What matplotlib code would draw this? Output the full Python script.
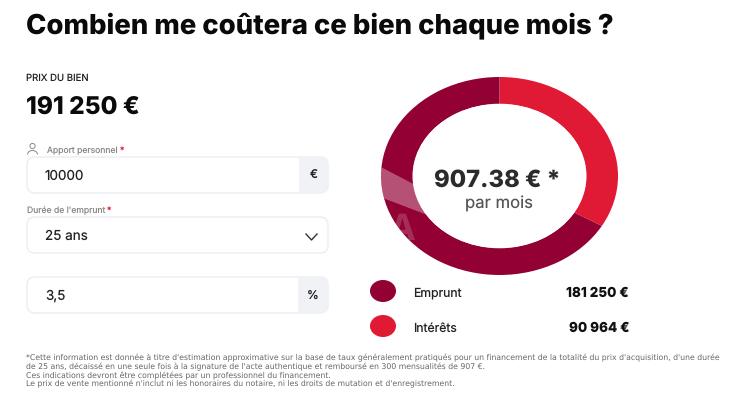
import matplotlib
matplotlib.use("Agg")
import matplotlib.pyplot as plt
from matplotlib.patches import Circle, Ellipse, FancyBboxPatch, Polygon, Rectangle, Arc

plt.rcParams["font.family"] = ["Inter", "DejaVu Sans"]
plt.rcParams["text.hinting"] = "no_hinting"

TITLE = "Combien me coûtera ce bien chaque mois ?"
PRICE_LABEL = "PRIX DU BIEN"
PRICE = "191 250 €"
DONUT_LABELS = ["Intérêts", "Emprunt"]
DONUT_VALUES = [90964, 181250]
DONUT_COLORS = ["#e01a35", "#930034"]
MONTHLY = "907.38 € *"
FOOTNOTE = [
    "*Cette information est donnée à titre d'estimation approximative sur la base de taux généralement pratiqués pour un financement de la totalité du prix d'acquisition, d'une durée",
    "de 25 ans, décaissé en une seule fois à la signature de l'acte authentique et remboursé en 300 mensualités de 907 €.",
    "Ces indications devront être complétées par un professionnel du financement.",
    "Le prix de vente mentionné n'inclut ni les honoraires du notaire, ni les droits de mutation et d'enregistrement.",
]


def draw_field(ax, top, bottom, value, unit=None, split=299):
    box = FancyBboxPatch((27, top), 301, bottom - top, boxstyle="round,pad=0,rounding_size=8",
                         fc="white", ec="#eef0f5", lw=1.2, zorder=2)
    ax.add_patch(box)
    if unit:
        grey = Rectangle((split, top), 330 - split, bottom - top, fc="#f0f2f5", ec="none", zorder=3)
        ax.add_patch(grey)
        grey.set_clip_path(box)
        ax.text((split + 328) / 2, (top + bottom) / 2 + 0.5, unit, fontsize=8.5, fontweight="medium",
                color="#222222", ha="center", va="center", zorder=4)
    ax.text(45, (top + bottom) / 2 + 1, value, fontsize=9.7, color="#222222", va="center", zorder=4)


def main():
    fig = plt.figure(figsize=(7.5, 4.2), dpi=100)
    ax = fig.add_axes([0, 0, 1, 1])
    ax.set_xlim(0, 750)
    ax.set_ylim(420, 0)
    ax.axis("off")
    ax.set_zorder(2)

    ax.text(26, 26, TITLE, fontsize=19.8, fontweight="heavy", color="#0a0a0a", va="center")
    ax.text(26, 78.5, PRICE_LABEL, fontsize=6.9, color="#222222", va="center")
    ax.text(26, 107, PRICE, fontsize=17.6, fontweight="heavy", color="#0a0a0a", va="center")

    # champs de gauche
    ax.add_patch(Circle((32.5, 146), 2.6, fc="none", ec="#888888", lw=0.7))
    ax.add_patch(Arc((32.5, 154.5), 10, 8, theta1=180, theta2=360, ec="#888888", lw=0.7))
    ax.text(47, 150.5, "Apport personnel", fontsize=6.2, color="#8a8a8a", va="center")
    ax.text(120, 150.5, "*", fontsize=6.2, color="#e01a35", va="center")
    draw_field(ax, 157, 193, "10000", "€")
    ax.text(27, 210.5, "Durée de l'emprunt", fontsize=6.2, color="#8a8a8a", va="center")
    ax.text(107, 210.5, "*", fontsize=6.2, color="#e01a35", va="center")
    draw_field(ax, 217, 253, "25 ans")
    ax.plot([306, 311.5, 317], [234, 240, 234], color="#333333", lw=1.0, zorder=4)
    draw_field(ax, 277, 313, "3,5", "%", split=298)

    # donut (ellipse comme dans l'image)
    ax_d = fig.add_axes([(499.5 - 118.5) / 750, 1 - 275 / 420, 237 / 750, 198 / 420])
    ax_d.set_zorder(1)
    ax_d.pie(DONUT_VALUES, colors=DONUT_COLORS, startangle=90, counterclock=False,
             radius=1, wedgeprops={"width": 0.27, "linewidth": 0})
    ax_d.set_aspect("auto")
    ax_d.set_xlim(-1, 1)
    ax_d.set_ylim(-1, 1)

    # filigrane sur l'anneau
    band = Polygon([(375, 164), (425, 190), (430, 216), (375, 195)], fc="white", alpha=0.32, ec="none", zorder=5)
    ax.add_patch(band)
    band.set_clip_path(Ellipse((499.5, 176), 237, 198, transform=ax.transData))
    mark = ax.text(402, 231, "A", fontsize=26, fontweight="bold", color="white", alpha=0.18,
                   ha="center", va="center", zorder=5)
    mark.set_clip_path(Ellipse((499.5, 176), 237, 198, transform=ax.transData))

    ax.add_patch(Ellipse((499.5, 176), 174, 144, fc="white", ec="none", zorder=6))
    ax.text(497, 181, MONTHLY, fontsize=17.1, fontweight="heavy", color="#2b2b2b",
            ha="center", va="center", zorder=7)
    ax.text(499, 204, "par mois", fontsize=12, color="#555555", ha="center", va="center", zorder=7)

    # légende
    rows = [(1, 291), (0, 326)]
    for idx, y in rows:
        ax.add_patch(Ellipse((383, y), 26, 22, fc=DONUT_COLORS[idx], ec="none"))
        ax.text(413, y + 2.5, DONUT_LABELS[idx], fontsize=8.8, color="#222222", va="center")
        amount = f"{DONUT_VALUES[idx]:,}".replace(",", " ") + " €"
        ax.text(629, y + 2.5, amount, fontsize=9.7, fontweight="heavy", color="#111111", ha="right", va="center")

    # note de bas de page
    for i, line in enumerate(FOOTNOTE):
        ax.text(26, 360.5 + i * 8.7, line, fontsize=5.58, family="DejaVu Sans", color="#666666", va="baseline")

    fig.savefig("out.png", dpi=100)


if __name__ == "__main__":
    main()
